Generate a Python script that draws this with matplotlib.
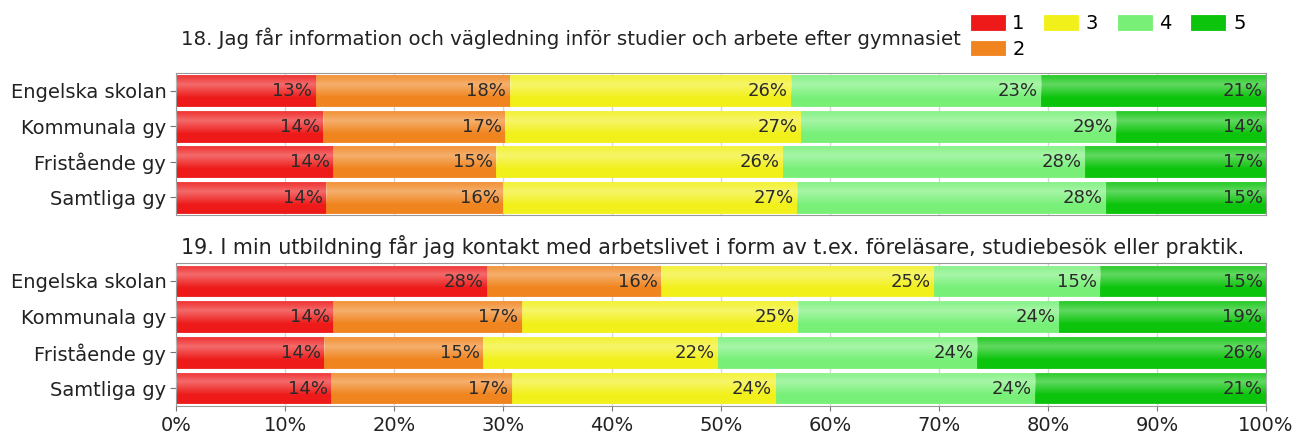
import numpy as np
import matplotlib
matplotlib.use("Agg")
import matplotlib.pyplot as plt

groups = ["Engelska skolan", "Kommunala gy", "Fristående gy", "Samtliga gy"]
levels = ["1", "2", "3", "4", "5"]
colors = ["#ee1a1a", "#f0841e", "#f2f01a", "#78f078", "#0cc40c"]

title18 = "18. Jag får information och vägledning inför studier och arbete efter gymnasiet"
title19 = "19. I min utbildning får jag kontakt med arbetslivet i form av t.ex. föreläsare, studiebesök eller praktik."

# share of answers per level (rows = groups)
q18 = np.array([
    [12.8, 17.8, 25.8, 23.0, 20.6],
    [13.5, 16.7, 27.1, 28.9, 13.8],
    [14.4, 15.0, 26.3, 27.7, 16.6],
    [13.8, 16.2, 27.0, 28.3, 14.7],
])
q19 = np.array([
    [28.5, 16.0, 25.0, 15.3, 15.2],
    [14.4, 17.3, 25.4, 23.9, 18.9],
    [13.6, 14.6, 21.5, 23.8, 26.5],
    [14.2, 16.6, 24.2, 23.8, 21.2],
])

W, H = 1296, 437
fig = plt.figure(figsize=(W / 100, H / 100), dpi=100)
plt.rcParams['font.family'] = ['DejaVu Sans']

# vertical highlight used on every bar segment
grad = np.linspace(0, 1, 64)
shine = np.clip(0.35 - 0.8 * np.abs(grad - 0.3), 0, None)


def panel(ax, data):
    ys = np.arange(len(groups))
    left = np.zeros(len(groups))
    for j, lev in enumerate(levels):
        bars = ax.barh(ys, data[:, j], left=left, height=0.86, color=colors[j],
                       edgecolor=colors[j], linewidth=0.6, label=lev, zorder=2)
        for b, v in zip(bars, data[:, j]):
            x0, y0 = b.get_x(), b.get_y()
            img = np.zeros((64, 1, 4))
            img[..., :3] = 1.0
            img[:, 0, 3] = shine
            im = ax.imshow(img, extent=(x0, x0 + b.get_width(), y0 + b.get_height(), y0),
                           aspect="auto", zorder=3, interpolation="bilinear")
            im.set_clip_path(b)
            ax.text(x0 + b.get_width() - 0.3, b.get_y() + b.get_height() / 2 + 0.02,
                    f"{v:.0f}%", ha="right", va="center", fontsize=13,
                    color="#2a2a2a", zorder=4)
        left += data[:, j]
    ax.set_xlim(0, 100)
    ax.set_ylim(3.5, -0.5)
    ax.set_yticks(ys)
    ax.set_yticklabels(groups, fontsize=14, color="#222222")
    ax.set_xticks(np.arange(0, 101, 10))
    ax.grid(axis="x", color="#d8d8d8", linewidth=1, zorder=0)
    ax.set_axisbelow(True)
    for s in ax.spines.values():
        s.set_color("#999999")
    ax.tick_params(axis="y", length=4, color="#777777", pad=3)
    ax.tick_params(axis="x", color="#777777")


ax1 = fig.add_axes([176 / W, 1 - 215 / H, 1090 / W, 142 / H])
ax2 = fig.add_axes([176 / W, 1 - 406 / H, 1090 / W, 143 / H])
panel(ax1, q18)
panel(ax2, q19)
ax1.tick_params(axis="x", length=0, labelbottom=False)
ax2.set_xticklabels([f"{t}%" for t in range(0, 101, 10)], fontsize=14, color="#222222")

fig.text(181 / W, 1 - 38 / H, title18, fontsize=14.2, color="#222222", ha="left", va="center")
fig.text(181 / W, 1 - 246 / H, title19, fontsize=14.9, color="#222222", ha="left", va="center")

handles, labels = ax1.get_legend_handles_labels()
fig.legend(handles, labels, ncol=4, loc="upper left", bbox_to_anchor=(953 / W, 1.008),
           frameon=False, fontsize=14, handlelength=1.75, handleheight=0.8,
           columnspacing=1.0, labelspacing=0.35, handletextpad=0.4)

fig.savefig("out.png", dpi=100)
